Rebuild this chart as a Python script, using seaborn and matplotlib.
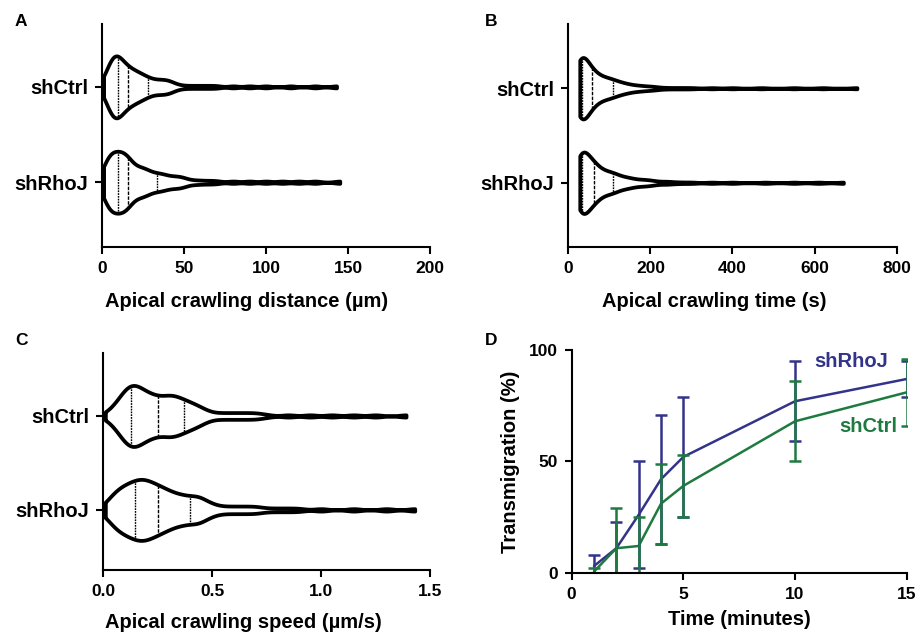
import numpy as np
import pandas as pd
import matplotlib
matplotlib.use("Agg")
import matplotlib.pyplot as plt
import seaborn as sns

sns.set_theme(style="ticks")
plt.rcParams["font.family"] = ["Liberation Sans", "DejaVu Sans"]
plt.rcParams["font.weight"] = "bold"
plt.rcParams["axes.labelweight"] = "bold"
for k in ["text.color", "axes.labelcolor", "xtick.color", "ytick.color", "axes.edgecolor"]:
    plt.rcParams[k] = "black"

groups = ["shCtrl", "shRhoJ"]

# ---------------------------------------------
# Violin data (binned values + counts)
# ---------------------------------------------
dist_ctrl_vals = [1, 4, 7, 10, 13, 16, 19, 22, 25, 28, 31, 34, 37, 40, 43, 46, 50, 55, 60, 65, 70, 80, 90, 100, 115, 130, 143]
dist_ctrl_cnts = [3, 9, 14, 13, 10, 8, 7, 6, 5, 4, 3, 3, 3, 3, 2, 1, 1, 1, 1, 1, 1, 1, 1, 1, 1, 1, 1]
dist_rhoj_vals = [1, 4, 7, 10, 13, 16, 19, 22, 25, 28, 31, 34, 37, 40, 43, 46, 49, 52, 56, 60, 65, 70, 80, 90, 100, 110, 120, 130, 145]
dist_rhoj_cnts = [5, 10, 10, 10, 10, 9, 5, 5, 5, 4, 3, 3, 3, 2, 2, 2, 2, 1, 1, 1, 1, 1, 1, 1, 1, 1, 1, 1, 1]

time_ctrl_vals = [28, 35, 40, 45, 50, 55, 60, 65, 70, 80, 90, 100, 110, 120, 135, 150, 170, 190, 210,
                  240, 270, 300, 350, 400, 470, 550, 620, 703]
time_ctrl_cnts = [30, 8, 7, 6, 5, 4, 5, 4, 4, 6, 5, 5, 4, 4, 4, 3, 3, 2, 2,
                  1, 1, 1, 1, 1, 1, 1, 1, 1]
time_rhoj_vals = [28, 33, 40, 45, 50, 55, 60, 65, 70, 80, 90, 100, 110, 120, 135, 150, 170, 190,
                  210, 240, 270, 300, 350, 400, 480, 550, 610, 670]
time_rhoj_cnts = [22, 10, 7, 6, 6, 5, 5, 5, 5, 6, 5, 5, 5, 4, 4, 4, 3, 3,
                  2, 2, 1, 1, 1, 1, 1, 1, 1, 1]

speed_ctrl_vals = [0.01, 0.04, 0.07, 0.10, 0.13, 0.16, 0.19, 0.22, 0.25, 0.28, 0.31, 0.34, 0.37, 0.40,
                   0.43, 0.46, 0.50, 0.55, 0.60, 0.65, 0.70, 0.75, 0.85, 0.95, 1.05, 1.15, 1.25, 1.39]
speed_ctrl_cnts = [1, 3, 6, 10, 12, 11, 9, 8, 7, 7, 8, 7, 6, 5,
                   4, 3, 2, 2, 2, 2, 2, 1, 1, 1, 1, 1, 1, 1]
speed_rhoj_vals = [0.01, 0.04, 0.07, 0.10, 0.13, 0.16, 0.19, 0.22, 0.25, 0.28, 0.31, 0.34, 0.37, 0.40,
                   0.43, 0.46, 0.50, 0.55, 0.60, 0.65, 0.70, 0.75, 0.80, 0.85, 0.90, 1.00, 1.15, 1.30, 1.43]
speed_rhoj_cnts = [2, 5, 7, 8, 9, 10, 10, 9, 8, 7, 6, 5, 5, 4,
                   5, 4, 3, 2, 2, 2, 2, 1, 1, 1, 1, 1, 1, 1, 1]

# ---------------------------------------------
# Transmigration time course (mean +/- error)
# ---------------------------------------------
time_min = [1, 2, 3, 4, 5, 10, 15]
rhoj_mean = [3, 11, 26, 42, 52, 77, 87]
rhoj_err = [5, 12, 24, 29, 27, 18, 8]
ctrl_mean = [0.5, 11, 12, 31, 39, 68, 81]
ctrl_err = [1.5, 18, 13, 18, 14, 18, 15]

BLUE = "#33338a"
GREEN = "#1e7a3e"


def make_frame(ctrl_vals, ctrl_cnts, rhoj_vals, rhoj_cnts):
    a = np.repeat(ctrl_vals, ctrl_cnts)
    b = np.repeat(rhoj_vals, rhoj_cnts)
    return pd.DataFrame({
        "value": np.concatenate([a, b]),
        "group": ["shCtrl"] * len(a) + ["shRhoJ"] * len(b),
    })


def style_axes(ax):
    sns.despine(ax=ax)
    for s in ["left", "bottom"]:
        ax.spines[s].set_linewidth(1.5)
        ax.spines[s].set_color("black")
    ax.tick_params(width=1.5, length=5, color="black", labelsize=12.5, pad=5)
    for lab in ax.get_xticklabels() + ax.get_yticklabels():
        lab.set_fontweight("bold")


def violin_panel(ax, df, bw, xlim, xticks, xlabel, ylim, label_x):
    sns.violinplot(data=df, x="value", y="group", order=groups, ax=ax,
                   orient="h", inner="quart", cut=0, bw_adjust=bw,
                   density_norm="width", width=0.65, gridsize=500,
                   color="white", linecolor="black", linewidth=2.7,
                   inner_kws=dict(linewidth=1.0, color="black"))
    ax.set_xlim(*xlim)
    ax.set_xticks(xticks)
    ax.set_ylim(*ylim)
    ax.set_ylabel("")
    ax.set_xlabel(xlabel, fontsize=14.5, fontweight="bold")
    ax.xaxis.set_label_coords(label_x, -0.2, transform=ax.transAxes)
    ax.xaxis.label.set_va("top")
    style_axes(ax)
    ax.tick_params(axis="y", labelsize=14.5)
    for lab in ax.get_yticklabels():
        lab.set_fontweight("bold")


fig = plt.figure(figsize=(9.17, 6.37), dpi=100)

axA = fig.add_axes([0.1112, 0.6122, 0.3577, 0.3502])
axB = fig.add_axes([0.6197, 0.6122, 0.3582, 0.3502])
axC = fig.add_axes([0.1125, 0.1052, 0.3564, 0.3406])
axD = fig.add_axes([0.6234, 0.1009, 0.3654, 0.3496])

violin_panel(axA, make_frame(dist_ctrl_vals, dist_ctrl_cnts, dist_rhoj_vals, dist_rhoj_cnts),
             0.3, (0, 200), [0, 50, 100, 150, 200], "Apical crawling distance (\u00b5m)", (1.68, -0.66), 0.44)
violin_panel(axB, make_frame(time_ctrl_vals, time_ctrl_cnts, time_rhoj_vals, time_rhoj_cnts),
             0.35, (0, 800), [0, 200, 400, 600, 800], "Apical crawling time (s)", (1.68, -0.68), 0.445)
violin_panel(axC, make_frame(speed_ctrl_vals, speed_ctrl_cnts, speed_rhoj_vals, speed_rhoj_cnts),
             0.33, (0, 1.5), [0.0, 0.5, 1.0, 1.5], "Apical crawling speed (\u00b5m/s)", (1.64, -0.67), 0.428)
axC.set_xticklabels(["0.0", "0.5", "1.0", "1.5"])
for lab in axC.get_xticklabels():
    lab.set_fontweight("bold")

# ---------------------------------------------
# Panel D
# ---------------------------------------------
tm = pd.DataFrame({
    "time": time_min * 2,
    "pct": rhoj_mean + ctrl_mean,
    "group": ["shRhoJ"] * len(time_min) + ["shCtrl"] * len(time_min),
})
sns.lineplot(data=tm, x="time", y="pct", hue="group", hue_order=["shRhoJ", "shCtrl"],
             palette={"shRhoJ": BLUE, "shCtrl": GREEN}, linewidth=1.8, legend=False, ax=axD)
axD.errorbar(time_min, rhoj_mean, yerr=rhoj_err, fmt="none", ecolor=BLUE,
             elinewidth=1.8, capsize=4, capthick=1.8)
axD.errorbar(time_min, ctrl_mean, yerr=ctrl_err, fmt="none", ecolor=GREEN,
             elinewidth=1.8, capsize=4, capthick=1.8)
axD.set_xlim(0, 15)
axD.set_ylim(0, 100)
axD.set_xticks([0, 5, 10, 15])
axD.set_yticks([0, 50, 100])
axD.set_xlabel("Time (minutes)", fontsize=14.5, fontweight="bold", labelpad=6)
axD.set_ylabel("Transmigration (%)", fontsize=14.5, fontweight="bold", labelpad=6)
style_axes(axD)
axD.text(14.17, 95, "shRhoJ", color=BLUE, fontsize=14.5, fontweight="bold", ha="right", va="center")
axD.text(14.6, 65.5, "shCtrl", color=GREEN, fontsize=14.5, fontweight="bold", ha="right", va="center")

# panel letters
for lab, x, y in [("A", 15, 22), ("B", 485, 22), ("C", 15, 340), ("D", 485, 340)]:
    fig.text(x / 917, 1 - y / 637, lab, fontsize=12.5, fontweight="bold", ha="left", va="center")

fig.savefig("out.png", dpi=100)
